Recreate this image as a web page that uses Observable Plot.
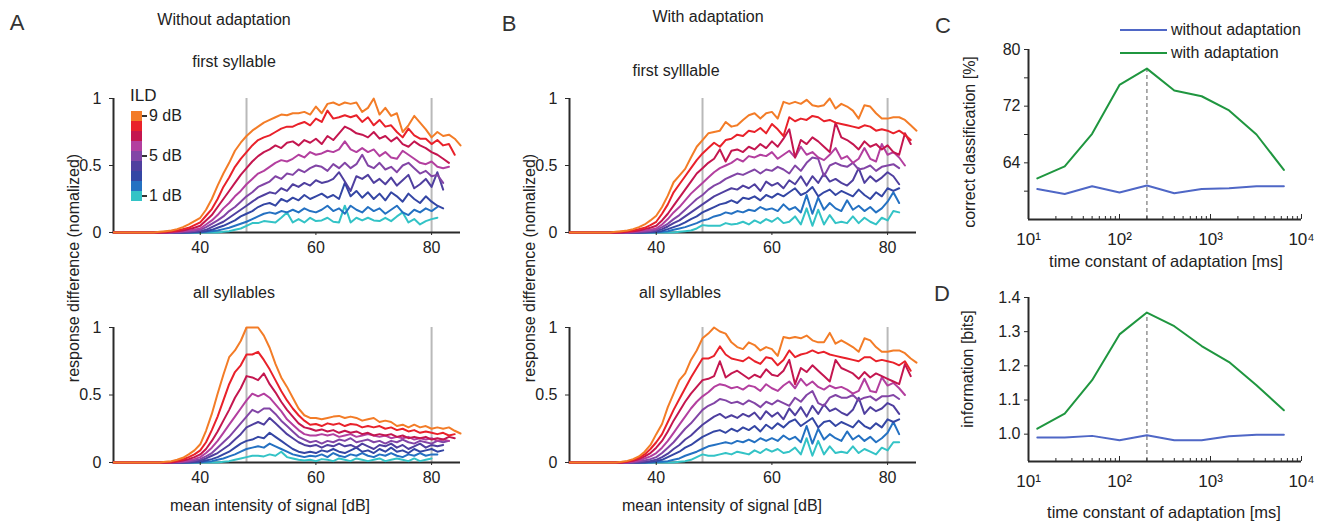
<!DOCTYPE html>
<html><head><meta charset="utf-8">
<script src="https://cdn.jsdelivr.net/npm/d3@7"></script>
<script src="https://cdn.jsdelivr.net/npm/@observablehq/plot@0.6"></script>
<style>
body{margin:0;background:#fff;}
#fig{position:relative;width:1324px;height:523px;overflow:hidden;font-family:"Liberation Sans",Arial,sans-serif;color:#222;background:#fff;}
.t{position:absolute;white-space:nowrap;line-height:1;}
</style></head><body><div id="fig"></div>
<script>
// ---------- data ----------
const dbStart = 25; // first sample of every series, 1 dB steps
const ildNames = ["1 dB","2 dB","3 dB","4 dB","5 dB","6 dB","7 dB","8 dB","9 dB"];
const ildColors = ["#33c3c6","#2471c2","#3446a4","#4f3f9f","#8245a6","#b33f9f","#c4164f","#e9212a","#f37c27"];
const legendTicks = ["9 dB","5 dB","1 dB"];
const markerDb = [48, 80];
const intensityTicks = [40, 60, 80];

// Panel A, first syllable (ILD 1..9)
const aFirst = [
 [0,0,0,0,0,0,0,0,0,0,0,0,0,0,0, 0,0,0,0,0.005,0.01,0.02,0.03,0.05,0.07, 0.07,0.085,0.08,0.075,0.11,0.15,0.075,0.10,0.075,0.11, 0.085,0.09,0.11,0.08,0.075,0.20,0.075,0.11,0.09,0.11, 0.09,0.085,0.11,0.085,0.12,0.15,0.075,0.10,0.06,0.085, 0.10,0.11],
 [0,0,0,0,0,0,0,0,0,0,0,0,0,0,0, 0.002,0.005,0.01,0.015,0.025,0.035,0.05,0.065,0.08,0.10, 0.12,0.14,0.15,0.14,0.16,0.15,0.17,0.15,0.18,0.16, 0.15,0.17,0.20,0.16,0.18,0.14,0.20,0.17,0.15,0.19, 0.16,0.18,0.14,0.17,0.20,0.15,0.13,0.17,0.15,0.18, 0.16,0.19],
 [0,0,0,0,0,0,0,0,0,0,0,0,0,0,0.003, 0.005,0.01,0.02,0.035,0.05,0.07,0.09,0.12,0.14,0.16, 0.19,0.21,0.22,0.20,0.25,0.23,0.26,0.24,0.28,0.25, 0.27,0.29,0.26,0.28,0.25,0.37,0.27,0.31,0.26,0.30, 0.25,0.29,0.24,0.30,0.27,0.23,0.29,0.25,0.22,0.27, 0.23,0.20,0.18],
 [0,0,0,0,0,0,0,0,0,0,0,0,0,0.004,0.007, 0.01,0.02,0.04,0.06,0.08,0.11,0.14,0.17,0.20,0.23, 0.26,0.28,0.30,0.29,0.33,0.31,0.36,0.34,0.37,0.35, 0.39,0.37,0.38,0.40,0.45,0.38,0.31,0.42,0.40,0.43, 0.37,0.40,0.36,0.41,0.35,0.39,0.43,0.33,0.36,0.40, 0.34,0.45,0.32],
 [0,0,0,0,0,0,0,0,0,0,0,0,0.005,0.008,0.012, 0.02,0.04,0.065,0.09,0.12,0.16,0.19,0.23,0.27,0.30, 0.34,0.36,0.38,0.42,0.40,0.44,0.43,0.47,0.45,0.48, 0.50,0.49,0.46,0.51,0.48,0.52,0.48,0.51,0.58,0.50, 0.48,0.52,0.47,0.49,0.45,0.50,0.52,0.48,0.44,0.46, 0.42,0.43,0.37],
 [0,0,0,0,0,0,0,0,0,0,0,0.005,0.01,0.015,0.02, 0.03,0.06,0.09,0.13,0.18,0.22,0.27,0.31,0.36,0.40, 0.44,0.46,0.49,0.52,0.54,0.53,0.55,0.58,0.56,0.60, 0.58,0.59,0.61,0.60,0.62,0.68,0.62,0.60,0.63,0.60, 0.62,0.57,0.60,0.56,0.55,0.61,0.58,0.55,0.52,0.51, 0.53,0.49,0.48,0.49],
 [0,0,0,0,0,0,0,0,0,0,0.005,0.01,0.015,0.025,0.035, 0.05,0.09,0.13,0.19,0.25,0.31,0.37,0.43,0.48,0.53, 0.57,0.60,0.62,0.65,0.63,0.67,0.68,0.65,0.69,0.67, 0.70,0.66,0.72,0.69,0.74,0.79,0.77,0.74,0.73,0.71, 0.75,0.70,0.72,0.68,0.71,0.66,0.64,0.68,0.65,0.63, 0.60,0.58,0.55,0.52],
 [0,0,0,0,0,0,0,0,0,0.005,0.01,0.015,0.025,0.035,0.055, 0.075,0.125,0.175,0.25,0.34,0.41,0.49,0.55,0.60,0.65, 0.69,0.71,0.725,0.75,0.775,0.79,0.79,0.81,0.825,0.80, 0.85,0.825,0.91,0.85,0.86,0.875,0.86,0.875,0.825,0.86, 0.80,0.84,0.79,0.80,0.75,0.71,0.775,0.725,0.70,0.70, 0.66,0.69,0.65,0.66,0.58],
 [0,0,0,0,0,0,0,0,0.005,0.01,0.015,0.025,0.04,0.06,0.085, 0.11,0.17,0.25,0.35,0.44,0.52,0.61,0.67,0.72,0.76, 0.79,0.82,0.84,0.86,0.88,0.875,0.89,0.89,0.90,0.88, 0.94,0.89,0.96,0.97,0.95,0.97,0.96,0.97,0.90,0.93, 1.0,0.88,0.93,0.87,0.89,0.75,0.80,0.87,0.82,0.77, 0.71,0.75,0.72,0.73,0.70,0.65]
];

// Panel A, all syllables
const aAll = [
 [0,0,0,0,0,0,0,0,0,0,0,0,0,0,0, 0,0,0,0,0.005,0.01,0.02,0.03,0.04,0.05, 0.05,0.045,0.06,0.05,0.08,0.04,0.03,0.02,0.015,0.02, 0.01,0.025,0.02,0.01,0.03,0.02,0.01,0.03,0.02,0.01, 0.02,0.03,0.01,0.02,0.03,0.02,0.01,0.03,0.01,0.02, 0.03],
 [0,0,0,0,0,0,0,0,0,0,0,0,0,0,0, 0.002,0.005,0.01,0.02,0.03,0.045,0.06,0.08,0.10,0.11, 0.12,0.11,0.14,0.12,0.10,0.08,0.06,0.05,0.04,0.05, 0.045,0.06,0.04,0.07,0.05,0.04,0.06,0.05,0.07,0.05, 0.04,0.06,0.05,0.07,0.05,0.04,0.06,0.05,0.07,0.05, 0.06,0.06],
 [0,0,0,0,0,0,0,0,0,0,0,0,0,0,0.003, 0.005,0.015,0.025,0.04,0.06,0.08,0.11,0.14,0.16,0.17, 0.19,0.18,0.22,0.19,0.16,0.13,0.10,0.08,0.07,0.08, 0.07,0.09,0.08,0.10,0.08,0.07,0.09,0.11,0.08,0.09, 0.07,0.10,0.08,0.11,0.08,0.09,0.07,0.10,0.08,0.09, 0.10,0.08,0.09],
 [0,0,0,0,0,0,0,0,0,0,0,0,0,0.004,0.008, 0.015,0.03,0.05,0.07,0.10,0.13,0.17,0.21,0.26,0.28, 0.30,0.28,0.33,0.29,0.25,0.21,0.18,0.15,0.13,0.12, 0.13,0.11,0.13,0.12,0.14,0.12,0.13,0.11,0.14,0.12, 0.10,0.13,0.12,0.14,0.11,0.13,0.10,0.12,0.14,0.11, 0.13,0.12,0.13],
 [0,0,0,0,0,0,0,0,0,0,0,0,0.004,0.008,0.015, 0.025,0.045,0.07,0.11,0.15,0.19,0.24,0.29,0.34,0.39, 0.37,0.40,0.40,0.36,0.31,0.27,0.23,0.19,0.17,0.15, 0.16,0.14,0.16,0.15,0.17,0.16,0.18,0.15,0.16,0.17, 0.15,0.16,0.14,0.16,0.15,0.17,0.15,0.14,0.16,0.15, 0.14,0.16,0.15,0.16],
 [0,0,0,0,0,0,0,0,0,0,0,0.004,0.008,0.015,0.025, 0.04,0.07,0.11,0.16,0.22,0.28,0.34,0.40,0.46,0.51, 0.49,0.51,0.48,0.43,0.38,0.32,0.28,0.24,0.21,0.20, 0.20,0.21,0.20,0.21,0.19,0.20,0.21,0.19,0.20,0.21, 0.20,0.19,0.20,0.18,0.19,0.18,0.19,0.17,0.18,0.17, 0.18,0.16,0.17,0.16],
 [0,0,0,0,0,0,0,0,0,0,0,0.008,0.015,0.025,0.04, 0.06,0.10,0.16,0.23,0.31,0.39,0.48,0.55,0.64,0.63, 0.61,0.66,0.58,0.52,0.45,0.39,0.34,0.29,0.26,0.25, 0.235,0.245,0.23,0.24,0.22,0.235,0.22,0.23,0.21,0.22, 0.20,0.21,0.20,0.21,0.19,0.20,0.18,0.19,0.18,0.19, 0.17,0.18,0.17,0.19,0.18],
 [0,0,0,0,0,0,0,0,0,0,0.005,0.012,0.022,0.04,0.06, 0.09,0.15,0.24,0.34,0.46,0.58,0.67,0.72,0.80,0.80, 0.82,0.76,0.69,0.61,0.53,0.46,0.40,0.35,0.31,0.28, 0.285,0.27,0.29,0.28,0.29,0.27,0.285,0.28,0.26,0.27, 0.26,0.27,0.25,0.26,0.24,0.25,0.23,0.24,0.22,0.23, 0.22,0.21,0.22,0.20,0.21],
 [0,0,0,0,0,0,0,0,0,0.005,0.01,0.02,0.035,0.06,0.09, 0.135,0.235,0.36,0.51,0.65,0.78,0.83,0.90,1.0,1.0, 1.0,0.94,0.85,0.73,0.63,0.56,0.48,0.40,0.35,0.33, 0.33,0.32,0.33,0.34,0.345,0.33,0.34,0.33,0.31,0.32, 0.33,0.30,0.31,0.30,0.27,0.28,0.26,0.28,0.26,0.27, 0.25,0.26,0.25,0.26,0.235,0.215]
];

// Panel B, first syllable
const bFirst = [
 [0,0,0,0,0,0,0,0,0,0,0,0,0,0,0, 0,0,0,0,0.005,0.01,0.015,0.03,0.055,0.05, 0.05,0.05,0.07,0.06,0.065,0.08,0.06,0.09,0.07,0.10, 0.08,0.11,0.07,0.08,0.12,0.06,0.18,0.05,0.17,0.06, 0.13,0.07,0.08,0.07,0.12,0.07,0.11,0.08,0.06,0.11, 0.09,0.16,0.15],
 [0,0,0,0,0,0,0,0,0,0,0,0,0,0,0, 0.002,0.005,0.01,0.02,0.03,0.04,0.055,0.07,0.09,0.10, 0.12,0.13,0.15,0.14,0.16,0.15,0.17,0.16,0.19,0.17, 0.18,0.16,0.21,0.17,0.19,0.15,0.28,0.14,0.26,0.17, 0.22,0.18,0.16,0.24,0.17,0.20,0.16,0.19,0.15,0.18, 0.23,0.30,0.22],
 [0,0,0,0,0,0,0,0,0,0,0,0,0,0,0.003, 0.005,0.012,0.025,0.04,0.055,0.075,0.10,0.12,0.15,0.17, 0.19,0.21,0.22,0.24,0.22,0.26,0.25,0.27,0.24,0.28, 0.26,0.29,0.27,0.30,0.33,0.28,0.30,0.34,0.27,0.30, 0.32,0.28,0.31,0.29,0.27,0.32,0.28,0.25,0.30,0.27, 0.33,0.31,0.33],
 [0,0,0,0,0,0,0,0,0,0,0,0,0,0.004,0.007, 0.012,0.025,0.045,0.07,0.09,0.12,0.15,0.18,0.21,0.24, 0.27,0.29,0.31,0.33,0.32,0.35,0.33,0.36,0.31,0.38, 0.35,0.37,0.33,0.39,0.36,0.42,0.35,0.42,0.37,0.44, 0.38,0.40,0.37,0.35,0.39,0.48,0.37,0.42,0.38,0.41, 0.45,0.42,0.36],
 [0,0,0,0,0,0,0,0,0,0,0,0,0.005,0.008,0.012, 0.02,0.04,0.065,0.10,0.13,0.17,0.21,0.25,0.28,0.32, 0.35,0.37,0.40,0.42,0.44,0.43,0.45,0.47,0.44,0.47, 0.46,0.49,0.47,0.44,0.50,0.46,0.52,0.56,0.55,0.42, 0.50,0.52,0.50,0.49,0.52,0.47,0.48,0.50,0.46,0.49, 0.50,0.51,0.48],
 [0,0,0,0,0,0,0,0,0,0,0,0.005,0.01,0.015,0.02, 0.03,0.06,0.10,0.15,0.19,0.24,0.29,0.33,0.37,0.41, 0.45,0.48,0.50,0.52,0.55,0.53,0.57,0.56,0.58,0.57, 0.60,0.55,0.58,0.61,0.56,0.64,0.58,0.60,0.56,0.54, 0.58,0.63,0.55,0.57,0.52,0.55,0.63,0.55,0.53,0.66, 0.58,0.60,0.56,0.50],
 [0,0,0,0,0,0,0,0,0,0,0.005,0.01,0.015,0.025,0.035, 0.05,0.09,0.14,0.20,0.26,0.32,0.38,0.44,0.48,0.52, 0.55,0.62,0.53,0.61,0.62,0.60,0.64,0.62,0.66,0.63, 0.68,0.64,0.70,0.77,0.56,0.69,0.66,0.71,0.68,0.64, 0.60,0.82,0.71,0.69,0.66,0.62,0.68,0.64,0.66,0.62, 0.65,0.60,0.58,0.74,0.66],
 [0,0,0,0,0,0,0,0,0,0.005,0.01,0.015,0.025,0.035,0.055, 0.08,0.14,0.21,0.30,0.36,0.42,0.48,0.54,0.59,0.63, 0.67,0.64,0.69,0.70,0.73,0.72,0.76,0.75,0.78,0.74, 0.81,0.77,0.72,0.86,0.83,0.85,0.84,0.87,0.86,0.83, 0.84,0.82,0.81,0.80,0.79,0.78,0.80,0.79,0.76,0.77, 0.76,0.74,0.76,0.73,0.69],
 [0,0,0,0,0,0,0,0,0.005,0.01,0.015,0.025,0.04,0.06,0.09, 0.125,0.19,0.275,0.375,0.425,0.475,0.56,0.64,0.69,0.74, 0.75,0.76,0.825,0.79,0.80,0.84,0.875,0.89,0.85,0.89, 0.90,0.85,0.975,0.96,0.975,0.96,0.99,0.95,0.94,0.95, 1.0,0.925,0.96,0.94,0.91,0.85,0.95,0.94,0.89,0.85, 0.85,0.86,0.86,0.84,0.80,0.76]
];

// Panel B, all syllables
const bAll = [
 [0,0,0,0,0,0,0,0,0,0,0,0,0,0,0, 0,0,0,0,0.005,0.01,0.02,0.04,0.06,0.05, 0.05,0.06,0.07,0.06,0.08,0.07,0.06,0.09,0.07,0.10, 0.08,0.10,0.07,0.08,0.11,0.06,0.18,0.05,0.16,0.06, 0.12,0.07,0.08,0.07,0.12,0.07,0.10,0.08,0.06,0.11, 0.09,0.15,0.15],
 [0,0,0,0,0,0,0,0,0,0,0,0,0,0,0, 0.003,0.006,0.01,0.02,0.03,0.05,0.065,0.08,0.10,0.12, 0.13,0.14,0.15,0.14,0.16,0.15,0.17,0.15,0.18,0.16, 0.18,0.16,0.20,0.17,0.19,0.15,0.27,0.14,0.25,0.17, 0.21,0.18,0.16,0.23,0.17,0.20,0.16,0.19,0.15,0.18, 0.22,0.30,0.21],
 [0,0,0,0,0,0,0,0,0,0,0,0,0,0,0.005, 0.01,0.02,0.04,0.06,0.08,0.11,0.13,0.16,0.19,0.21, 0.23,0.24,0.22,0.25,0.23,0.26,0.24,0.27,0.23,0.28, 0.25,0.29,0.26,0.30,0.32,0.27,0.30,0.33,0.26,0.30, 0.31,0.27,0.30,0.28,0.26,0.31,0.27,0.25,0.29,0.26, 0.32,0.30,0.32],
 [0,0,0,0,0,0,0,0,0,0,0,0,0,0.005,0.012, 0.02,0.04,0.065,0.10,0.13,0.17,0.20,0.24,0.28,0.31, 0.34,0.36,0.33,0.35,0.33,0.36,0.34,0.37,0.32,0.38, 0.34,0.37,0.32,0.40,0.35,0.41,0.34,0.42,0.36,0.43, 0.38,0.40,0.37,0.35,0.39,0.48,0.36,0.41,0.38,0.40, 0.44,0.42,0.36],
 [0,0,0,0,0,0,0,0,0,0,0,0,0.007,0.015,0.025, 0.04,0.07,0.11,0.15,0.20,0.25,0.29,0.34,0.39,0.42, 0.44,0.47,0.46,0.44,0.45,0.43,0.46,0.44,0.41,0.45, 0.43,0.46,0.44,0.42,0.48,0.45,0.50,0.53,0.44,0.42, 0.48,0.50,0.48,0.48,0.50,0.46,0.48,0.49,0.46,0.49, 0.49,0.50,0.47],
 [0,0,0,0,0,0,0,0,0,0,0,0.007,0.015,0.03,0.045, 0.07,0.11,0.16,0.22,0.28,0.34,0.40,0.45,0.49,0.52, 0.56,0.58,0.57,0.55,0.56,0.54,0.57,0.56,0.53,0.58, 0.55,0.53,0.57,0.60,0.55,0.62,0.57,0.60,0.56,0.54, 0.57,0.55,0.56,0.54,0.51,0.53,0.62,0.53,0.52,0.63, 0.57,0.59,0.55,0.50],
 [0,0,0,0,0,0,0,0,0,0,0.005,0.012,0.025,0.045,0.07, 0.11,0.16,0.23,0.31,0.38,0.45,0.51,0.56,0.61,0.62, 0.64,0.75,0.63,0.66,0.68,0.65,0.62,0.65,0.63,0.69, 0.65,0.64,0.68,0.76,0.58,0.70,0.67,0.72,0.68,0.64, 0.60,0.76,0.70,0.68,0.66,0.62,0.67,0.63,0.66,0.64, 0.62,0.60,0.58,0.73,0.64],
 [0,0,0,0,0,0,0,0,0,0,0.008,0.018,0.035,0.06,0.10, 0.15,0.21,0.30,0.39,0.47,0.55,0.63,0.70,0.77,0.77, 0.79,0.86,0.80,0.77,0.76,0.75,0.78,0.75,0.73,0.78, 0.77,0.72,0.76,0.83,0.78,0.80,0.81,0.83,0.81,0.82, 0.80,0.79,0.78,0.77,0.76,0.75,0.78,0.78,0.75,0.76, 0.75,0.74,0.72,0.75,0.68],
 [0,0,0,0,0,0,0,0,0,0.005,0.012,0.025,0.045,0.08,0.13, 0.21,0.285,0.41,0.51,0.61,0.66,0.76,0.83,0.92,0.955, 1.0,0.97,0.955,0.89,0.855,0.84,0.89,0.87,0.83,0.855, 0.84,0.79,0.93,0.92,0.93,0.92,0.94,0.905,0.89,0.89, 0.96,0.88,0.905,0.88,0.855,0.82,0.92,0.905,0.855,0.82, 0.82,0.83,0.83,0.81,0.77,0.74]
];

// Panels C and D
const tauMs = [12.5, 25, 50, 100, 200, 400, 800, 1600, 3200, 6400];
const classWithout = [60.3, 59.6, 60.7, 59.8, 60.8, 59.7, 60.3, 60.4, 60.7, 60.7];
const classWith = [61.8, 63.5, 68.1, 75.0, 77.3, 74.2, 73.4, 71.4, 68.0, 63.0];
const infoWithout = [0.990, 0.990, 0.995, 0.982, 0.997, 0.982, 0.982, 0.994, 0.998, 0.998];
const infoWith = [1.016, 1.060, 1.158, 1.292, 1.356, 1.316, 1.258, 1.211, 1.143, 1.070];
const bestTau = 200;
const classTicks = [64, 72, 80];
const classMinorTicks = [60, 68, 76];
const infoTicks = [1.0, 1.1, 1.2, 1.3, 1.4];
const decadeTicks = [10, 100, 1000, 10000];
const seriesNames = ["without adaptation", "with adaptation"];
const seriesColors = ["#4f67c6", "#1f963f"];

// ---------- drawing ----------
const fig = document.getElementById("fig");
const FONT = "'Liberation Sans', Arial, sans-serif";
const baseStyle = {fontFamily: FONT, fontSize: "16px", color: "#222", background: "transparent", overflow: "visible"};

function label(text, x, y, o = {}) {
  const d = document.createElement("div");
  d.className = "t";
  d.textContent = text;
  d.style.left = x + "px";
  d.style.top = y + "px";
  d.style.fontSize = (o.size || 16) + "px";
  if (o.color) d.style.color = o.color;
  if (o.spacing) d.style.letterSpacing = o.spacing + "px";
  const tx = o.anchor === "start" ? "0" : o.anchor === "end" ? "-100%" : "-50%";
  d.style.transform = `translate(${tx},-50%)` + (o.rotate ? ` rotate(${o.rotate}deg)` : "");
  fig.appendChild(d);
  return d;
}
function place(svg, left, top) {
  svg.style.position = "absolute";
  svg.style.left = left + "px";
  svg.style.top = top + "px";
  fig.appendChild(svg);
}

function intensityPanel(series, height, marginTop) {
  const rows = series.flatMap((vals, k) => vals.map((v, i) => ({db: dbStart + i, v, ild: ildNames[k]})));
  return Plot.plot({
    width: 480, height, marginLeft: 113, marginRight: 20, marginTop, marginBottom: 28,
    x: {domain: [25, 85]},
    y: {domain: [0, 1]},
    color: {domain: ildNames, range: ildColors},
    style: baseStyle,
    marks: [
      Plot.ruleX(markerDb, {y1: 0, y2: 1, stroke: "#b9b9b9", strokeWidth: 2}),
      Plot.ruleY([0], {x1: 25, x2: 85, stroke: "#2a2a2a", strokeWidth: 2}),
      Plot.ruleX([25], {y1: 0, y2: 1, stroke: "#2a2a2a", strokeWidth: 2}),
      Plot.lineY(rows, {x: "db", y: "v", z: "ild", stroke: "ild", strokeWidth: 2}),
      Plot.axisY({ticks: [0, 0.5, 1], tickFormat: d => String(d), tickSize: 4, tickPadding: 8, label: null, stroke: "#2a2a2a"}),
      Plot.axisX({ticks: intensityTicks, tickFormat: d => String(d), tickSize: 3, tickPadding: 6, label: null, stroke: "#2a2a2a"})
    ]
  });
}

place(intensityPanel(aFirst, 260, 98), 0, 0);
place(intensityPanel(aAll, 220, 57), 0, 270);
place(intensityPanel(bFirst, 260, 98), 456, 0);
place(intensityPanel(bAll, 220, 57), 456, 270);

const sup = {10: "10\u00B9", 100: "10\u00B2", 1000: "10\u00B3", 10000: "10\u2074"};
const minorLog = [2,3,4,5,6,7,8,9].flatMap(m => [m * 10, m * 100, m * 1000]);

function tauPanel(withoutVals, withVals, yDomain, yTicks, yMinor, height, marginTop, marginBottom, yFmt) {
  const rows = tauMs.flatMap((t, i) => [
    {t, v: withoutVals[i], s: seriesNames[0]},
    {t, v: withVals[i], s: seriesNames[1]}
  ]);
  const peak = withVals[tauMs.indexOf(bestTau)];
  const marks = [
    Plot.ruleX([bestTau], {y1: yDomain[0], y2: peak, stroke: "#9a9a9a", strokeWidth: 1.6, strokeDasharray: "4,3"}),
    Plot.lineY(rows, {x: "t", y: "v", z: "s", stroke: "s", strokeWidth: 2}),
    Plot.ruleX([10], {y1: yDomain[0], y2: yDomain[1], stroke: "#2a2a2a", strokeWidth: 2}),
    Plot.ruleY([yDomain[0]], {x1: 10, x2: 10000, stroke: "#2a2a2a", strokeWidth: 2}),
    Plot.axisY({ticks: yTicks, tickFormat: yFmt, tickSize: 4, tickPadding: 4, label: null, stroke: "#2a2a2a"}),
    Plot.axisX({ticks: decadeTicks, tickFormat: () => "", tickSize: 5, dy: -5, label: null, stroke: "#2a2a2a"}),
    Plot.axisX({ticks: minorLog, tickFormat: () => "", tickSize: 3, dy: -3, label: null, stroke: "#2a2a2a"}),
    Plot.axisX({ticks: decadeTicks, tickFormat: d => sup[d], tickSize: 0, tickPadding: 13, label: null, fontSize: 17})
  ];
  if (yMinor) marks.push(Plot.axisY({ticks: yMinor, tickFormat: () => "", tickSize: 4, label: null, stroke: "#2a2a2a"}));
  return Plot.plot({
    width: 404, height, marginLeft: 108, marginRight: 23, marginTop, marginBottom,
    x: {type: "log", domain: [10, 10000]},
    y: {domain: yDomain},
    color: {domain: seriesNames, range: seriesColors},
    style: baseStyle,
    marks
  });
}

place(tauPanel(classWithout, classWith, [56, 80], classTicks, classMinorTicks, 270, 49, 51, d => String(d)), 920, 0);
place(tauPanel(infoWithout, infoWith, [0.92, 1.4], infoTicks, null, 253, 27, 62, d => d.toFixed(1)), 920, 270);

// ---------- texts ----------
label("A", 17, 23, {size: 22, color: "#333"});
label("B", 509, 24, {size: 22, color: "#333"});
label("C", 943, 26, {size: 22, color: "#333"});
label("D", 942, 294, {size: 22, color: "#333"});

label("Without adaptation", 224, 20, {size: 16});
label("With adaptation", 708, 17, {size: 16});
label("first syllable", 234, 62, {size: 16});
label("first sylllable", 676, 71, {size: 16});
label("all syllables", 234, 293, {size: 16});
label("all syllables", 680, 293, {size: 16});

label("response difference (nomalized)", 74, 268, {size: 16, rotate: -90});
label("response difference (nomalized)", 530, 268, {size: 16, rotate: -90});
label("mean intensity of signal [dB]", 270, 506, {size: 16});
label("mean intensity of signal [dB]", 722, 506, {size: 16});

label("correct classification [%]", 970, 142, {size: 16, rotate: -90});
label("time constant of adaptation [ms]", 1166, 261, {size: 16.5});
label("information [bits]", 968, 369, {size: 16, rotate: -90});
label("time constant of adaptation [ms]", 1164, 512, {size: 16.5});

// ILD colour bar legend
label("ILD", 130, 95, {size: 17, anchor: "start"});
const barTop = 111, cell = 10;
ildColors.slice().reverse().forEach((c, j) => {
  const d = document.createElement("div");
  d.style.cssText = `position:absolute;left:131px;top:${barTop + j * cell}px;width:11px;height:${cell}px;background:${c};`;
  fig.appendChild(d);
});
legendTicks.forEach(name => {
  const j = ildNames.length - 1 - ildNames.indexOf(name);
  const cy = barTop + j * cell + cell / 2;
  const tk = document.createElement("div");
  tk.style.cssText = `position:absolute;left:142px;top:${cy - 1}px;width:5px;height:2px;background:#333;`;
  fig.appendChild(tk);
  label(name, 149, cy, {size: 16, anchor: "start"});
});

// C legend
seriesNames.forEach((name, i) => {
  const y = 30 + i * 23;
  const ln = document.createElement("div");
  ln.style.cssText = `position:absolute;left:1120px;top:${y - 1}px;width:47px;height:2px;background:${seriesColors[i]};`;
  fig.appendChild(ln);
  label(name, 1171, y, {size: 16, anchor: "start"});
});
</script></body></html>
